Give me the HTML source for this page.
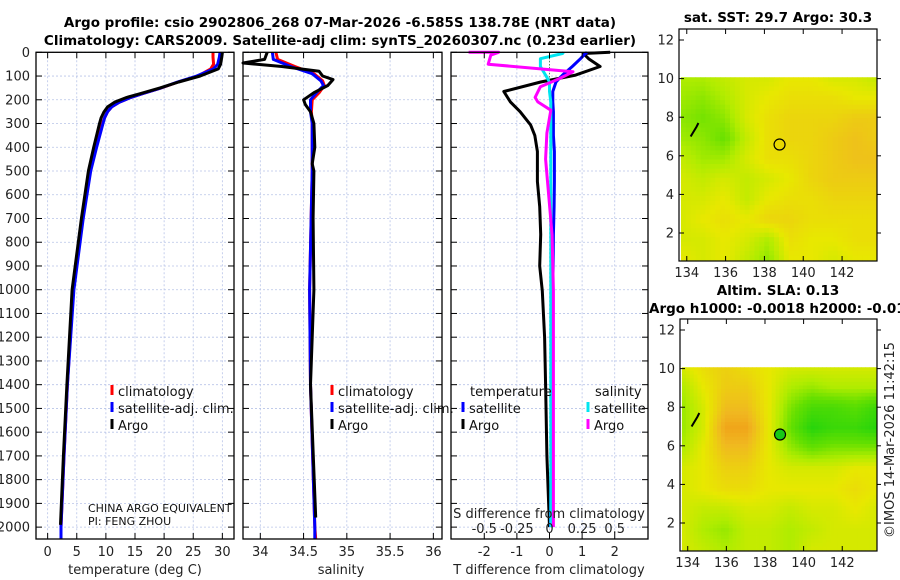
<!DOCTYPE html>
<html><head><meta charset="utf-8">
<style>
body{margin:0;background:#fff;}
svg{display:block;font-family:"DejaVu Sans","Liberation Sans",sans-serif;}
.t{font-size:13px;fill:#222;}
.b{font-weight:bold;font-size:13.5px;fill:#000;}
.lg{font-size:13px;fill:#111;}
</style></head><body>
<svg id="fig" width="900" height="580" viewBox="0 0 900 580" xmlns="http://www.w3.org/2000/svg">
<g id="grid"></g>
<g id="marks"></g>
<g id="frames"></g>
<g id="labels"></g>
</svg>
<script>
// ---------- DATA ----------
const depthTicks=[0,100,200,300,400,500,600,700,800,900,1000,1100,1200,1300,1400,1500,1600,1700,1800,1900,2000];
const tempTicks=[0,5,10,15,20,25,30];
const salTicks=[34,34.5,35,35.5,36];
const salTickLabels=["34","34.5","35","35.5","36"];
const tdiffTicks=[-2,-1,0,1,2];
const sdiffTicks=[-0.5,-0.25,0,0.25,0.5];
const sdiffTickLabels=["-0.5","-0.25","0","0.25","0.5"];
const lonTicks=[134,136,138,140,142];
const latTicks=[2,4,6,8,10,12];

const depthT=[0,20,50,70,100,125,150,175,190,210,230,250,275,300,400,500,700,1000,1400,1700,2000,2050];
const tClim=[28.4,28.4,28.5,28.0,25.8,22.4,19.5,16.2,14.3,12.3,11.0,10.3,9.8,9.4,8.3,7.3,6.0,4.4,3.4,2.8,2.3,2.3];
const tSat=[29.6,29.5,29.2,28.5,25.6,22.3,19.5,16.2,14.3,12.3,11.0,10.3,9.8,9.5,8.4,7.4,6.1,4.5,3.4,2.8,2.3,2.3];
const depthTArgo=[0,20,50,70,100,125,150,175,190,210,230,250,275,300,400,500,700,1000,1400,1700,1990];
const tArgo=[30.0,29.9,29.7,29.3,26.2,22.5,19.3,15.8,13.6,11.5,10.3,9.7,9.2,8.9,7.9,7.0,5.8,4.2,3.3,2.7,2.2];

const depthS=[0,30,60,90,120,140,170,200,250,300,500,1000,1400,2000,2050];
const sClim=[34.18,34.2,34.4,34.62,34.72,34.74,34.68,34.6,34.59,34.6,34.6,34.57,34.58,34.63,34.64];
const sSat=[34.14,34.15,34.35,34.6,34.7,34.73,34.65,34.58,34.58,34.6,34.6,34.57,34.58,34.63,34.63];
const depthSArgo=[0,30,45,60,80,100,115,140,170,200,220,250,300,400,470,500,700,1000,1400,1960];
const sArgo=[34.08,34.05,33.8,34.25,34.68,34.72,34.84,34.78,34.62,34.5,34.52,34.58,34.62,34.63,34.6,34.62,34.61,34.62,34.58,34.64];

const diffDepth=[0,5,27,60,96,125,165,209,250,306,350,418,544,650,767,900,1005,1200,1400,1700,2000];
const tDiffArgo=[1.86,1.04,1.2,1.55,0.8,-0.27,-1.4,-1.2,-0.9,-0.58,-0.45,-0.37,-0.37,-0.3,-0.27,-0.3,-0.22,-0.15,-0.12,-0.08,0];
const tDiffSat=[1.15,1.1,0.95,0.7,0.4,0.2,0.1,0.1,0.12,0.12,0.12,0.15,0.15,0.14,0.12,0.11,0.1,0.08,0.07,0.05,0.03];
const sDiffSat=[0.107,0.1,-0.07,-0.07,-0.03,0,0.0,0.01,0.01,0.01,0.01,0.01,0.01,0.01,0.01,0.01,0.01,0.01,0.01,0.01,0.01];
const sDiffArgoDepth=[0,0,12,50,82,110,145,190,209,244,340,450,770,1005,1400,2000];
const sDiffArgo=[-0.62,-0.39,-0.45,-0.47,0.18,0.08,-0.07,-0.11,-0.09,0.01,-0.02,-0.03,0.02,0.03,0.03,0.03];

// SST map grid (rows lat 10 -> 0.6, cols lon 133.7 -> 143.8), colour index 0(green)..1(orange)
const sstGrid=[
[0.45,0.45,0.5,0.55,0.55,0.6,0.6,0.55,0.55,0.5],
[0.42,0.38,0.45,0.55,0.6,0.64,0.64,0.64,0.6,0.6],
[0.38,0.33,0.38,0.55,0.64,0.68,0.68,0.68,0.72,0.72],
[0.42,0.38,0.3,0.5,0.64,0.68,0.68,0.72,0.76,0.72],
[0.5,0.42,0.42,0.55,0.64,0.64,0.68,0.72,0.76,0.76],
[0.55,0.5,0.55,0.5,0.55,0.6,0.68,0.72,0.72,0.72],
[0.55,0.55,0.6,0.5,0.6,0.64,0.64,0.68,0.68,0.68],
[0.55,0.6,0.64,0.6,0.68,0.68,0.64,0.64,0.64,0.64],
[0.55,0.55,0.6,0.55,0.45,0.64,0.6,0.6,0.64,0.64],
[0.6,0.55,0.6,0.5,0.38,0.6,0.6,0.55,0.6,0.6]];
const slaGrid=[
[0.55,0.65,0.70,0.65,0.60,0.55,0.55,0.55,0.55,0.55],
[0.45,0.60,0.72,0.72,0.60,0.45,0.40,0.45,0.45,0.45],
[0.40,0.55,0.78,0.78,0.60,0.35,0.20,0.20,0.25,0.15],
[0.40,0.55,0.88,0.88,0.60,0.30,0.08,0.15,0.15,0.08],
[0.45,0.60,0.78,0.78,0.60,0.40,0.30,0.35,0.35,0.35],
[0.55,0.60,0.70,0.70,0.60,0.55,0.55,0.55,0.60,0.60],
[0.55,0.60,0.65,0.65,0.60,0.60,0.60,0.60,0.65,0.60],
[0.55,0.50,0.50,0.55,0.55,0.50,0.55,0.55,0.60,0.55],
[0.55,0.45,0.40,0.50,0.50,0.45,0.50,0.55,0.55,0.55],
[0.55,0.50,0.45,0.50,0.50,0.45,0.55,0.55,0.55,0.55]];
const argoLon=[138.78];
const argoLat=[6.585];

// ---------- HELPERS ----------
const NS="http://www.w3.org/2000/svg";
const G=id=>document.getElementById(id);
function mk(tag,attrs,parent){const e=document.createElementNS(NS,tag);for(const k in attrs)e.setAttribute(k,attrs[k]);(parent||G('marks')).appendChild(e);return e;}
function lin(d0,d1,r0,r1){return v=>r0+(v-d0)*(r1-r0)/(d1-d0);}
const TOP=52.3,BOT=539;
const yD=lin(0,2050,TOP,BOT);
const P1={x0:36,x1:234}, P2={x0:243,x1:442}, P3={x0:451,x1:648};
const xT=lin(-2,32,P1.x0,P1.x1);
const xS=lin(33.8,36.1,P2.x0,P2.x1);
const xTD=lin(-3.02,3.02,P3.x0,P3.x1);
const xSD=lin(-0.755,0.755,P3.x0,P3.x1);

function panelGrid(P,xs,xf,name){
  const g=G('grid');
  xs.forEach(v=>{const x=xf(v);const l=mk('line',{x1:x,x2:x,y1:TOP,y2:BOT,stroke:'#b8c4e8','stroke-width':0.8,'stroke-dasharray':'2,2'},g);
    });
  depthTicks.forEach(d=>{const y=yD(d);const l=mk('line',{x1:P.x0,x2:P.x1,y1:y,y2:y,stroke:'#b8c4e8','stroke-width':0.8,'stroke-dasharray':'2,2'},g);
    
    const f=G('frames');
    mk('line',{x1:P.x0,x2:P.x0+6,y1:y,y2:y,stroke:'#000','stroke-width':1},f);
    mk('line',{x1:P.x1-6,x2:P.x1,y1:y,y2:y,stroke:'#000','stroke-width':1},f);});
  xs.forEach(v=>{const x=xf(v);const f=G('frames');
    mk('line',{x1:x,x2:x,y1:BOT,y2:BOT-6,stroke:'#000','stroke-width':1},f);
    mk('line',{x1:x,x2:x,y1:TOP,y2:TOP+6,stroke:'#000','stroke-width':1},f);});
  const r=mk('rect',{x:P.x0,y:TOP,width:P.x1-P.x0,height:BOT-TOP,fill:'none',stroke:'#000','stroke-width':1.3},G('frames'));
  
}
function line(xs,ds,xf,color,name,w){
  const pts=xs.map((v,i)=>xf(v).toFixed(1)+','+yD(ds[i]).toFixed(1)).join(' ');
  const p=mk('polyline',{points:pts,fill:'none',stroke:color,'stroke-width':w||3,'stroke-linejoin':'round'});
  
  return p;
}
function text(x,y,s,cls,anchor,name,extra){
  const t=mk('text',Object.assign({x:x,y:y,class:cls,'text-anchor':anchor||'start'},extra||{}),G('labels'));
  t.textContent=s;return t;
}

// ---------- PROFILE PANELS ----------
panelGrid(P1,tempTicks,xT,'temperature-panel');
panelGrid(P2,salTicks,xS,'salinity-panel');
panelGrid(P3,tdiffTicks,xTD,'difference-panel');

depthTicks.forEach(d=>text(30,yD(d)+4.5,String(d),'t','end','depth-tick-label'));
tempTicks.forEach(v=>text(xT(v),556,String(v),'t','middle','temperature-tick-label'));
salTicks.forEach((v,i)=>text(xS(v),556,salTickLabels[i],'t','middle','salinity-tick-label'));
tdiffTicks.forEach(v=>text(xTD(v),556,String(v),'t','middle','t-diff-tick-label'));
sdiffTicks.forEach((v,i)=>text(xSD(v),533,sdiffTickLabels[i],'t','middle','s-diff-tick-label'));
text(135,574,'temperature (deg C)','t','middle','temperature-axis-title');
text(341,574,'salinity','t','middle','salinity-axis-title');
text(549,574,'T difference from climatology','t','middle','t-diff-axis-title');
text(549,518,'S difference from climatology','t','middle','s-diff-axis-title');

line(tClim,depthT,xT,'#ff0000','temperature-climatology-line');
line(tSat,depthT,xT,'#0000ff','temperature-satellite-line');
line(tArgo,depthTArgo,xT,'#000000','temperature-argo-line');
line(sClim,depthS,xS,'#ff0000','salinity-climatology-line');
line(sSat,depthS,xS,'#0000ff','salinity-satellite-line');
line(sArgo,depthSArgo,xS,'#000000','salinity-argo-line');
mk('line',{x1:xTD(0),x2:xTD(0),y1:TOP,y2:yD(120),stroke:'#2a6a2a','stroke-width':1,'stroke-dasharray':'1,2'});
line(tDiffArgo,diffDepth,xTD,'#000000','t-diff-argo-line');
line(tDiffSat,diffDepth,xTD,'#0000ff','t-diff-satellite-line');
line(sDiffSat,diffDepth,xSD,'#00e5f0','s-diff-satellite-line');
line(sDiffArgo,sDiffArgoDepth,xSD,'#ff00ff','s-diff-argo-line');

// legends
function legend(x,y,color,label,name){
  const r=mk('rect',{x:x-1.5,y:y-11,width:3,height:10,fill:color},G('labels'));
  
  text(x+6,y,label,'lg','start',name);
}
legend(112,396,'#ff0000','climatology','legend-climatology');
legend(112,413,'#0000ff','satellite-adj. clim.','legend-satellite-adj');
legend(112,430,'#000000','Argo','legend-argo');
legend(332,396,'#ff0000','climatology','legend2-climatology');
legend(332,413,'#0000ff','satellite-adj. clim.','legend2-satellite-adj');
legend(332,430,'#000000','Argo','legend2-argo');
text(470,396,'temperature','lg','start','legend-temperature-header');
text(595,396,'salinity','lg','start','legend-salinity-header');
legend(463,413,'#0000ff','satellite','legend-t-satellite');
legend(463,430,'#000000','Argo','legend-t-argo');
legend(588,413,'#00e5f0','satellite','legend-s-satellite');
legend(588,430,'#ff00ff','Argo','legend-s-argo');
text(88,512,'CHINA ARGO EQUIVALENT','lg','start','institution-label',{style:'font-size:11px'});
text(88,525,'PI: FENG ZHOU','lg','start','pi-label',{style:'font-size:11px'});

// titles
text(340,27,'Argo profile: csio 2902806_268 07-Mar-2026 -6.585S 138.78E (NRT data)','b','middle','main-title-line1');
text(340,45,'Climatology: CARS2009. Satellite-adj clim: synTS_20260307.nc (0.23d earlier)','b','middle','main-title-line2');

// ---------- MAPS ----------
const stops=[[0,[16,208,16]],[0.3,[102,224,0]],[0.45,[176,236,0]],[0.6,[232,232,0]],[0.8,[240,184,32]],[1,[240,138,16]]];
function cmap(v){v=Math.max(0,Math.min(1,v));for(let i=1;i<stops.length;i++){if(v<=stops[i][0]){const a=stops[i-1],b=stops[i];const f=(v-a[0])/(b[0]-a[0]);
  return 'rgb('+a[1].map((c,k)=>Math.round(c+(b[1][k]-c)*f)).join(',')+')';}}return 'rgb(240,138,16)';}
function bil(grid,u,v){const R=grid.length-1,C=grid[0].length-1;const x=u*C,y=v*R;const i=Math.min(Math.floor(y),R-1),j=Math.min(Math.floor(x),C-1);
  const fx=x-j,fy=y-i;return grid[i][j]*(1-fx)*(1-fy)+grid[i][j+1]*fx*(1-fy)+grid[i+1][j]*(1-fx)*fy+grid[i+1][j+1]*fx*fy;}
function map(M,grid,title1,title2,name,markerFill,nsub){
  const xL=lin(133.6,143.8,M.x0,M.x1), yL=lin(12.57,0.55,M.y0,M.y1);
  const g=mk('g',{},G('marks'));
  const lx0=xL(133.7),lx1=xL(143.8),ly0=yL(10.07),ly1=yL(0.6);
  const N=nsub, cw=(lx1-lx0)/N, ch=(ly1-ly0)/N;
  for(let r=0;r<N;r++)for(let c=0;c<N;c++){
    const v=bil(grid,(c+0.5)/N,(r+0.5)/N);
    const cell=mk('rect',{x:(lx0+c*cw).toFixed(2),y:(ly0+r*ch).toFixed(2),width:(cw+0.4).toFixed(2),height:(ch+0.4).toFixed(2),fill:cmap(v)},g);
    
  }
  mk('polyline',{points:[[134.2,7],[134.5,7.5],[134.6,7.7]].map(p=>xL(p[0])+','+yL(p[1])).join(' '),stroke:'#000','stroke-width':2,fill:'none'},g);
  const m=mk('circle',{cx:xL(argoLon[0]),cy:yL(argoLat[0]),r:5.5,fill:markerFill,stroke:'#000','stroke-width':1.2},g);
  
  const f=G('frames');
  lonTicks.forEach(v=>{const x=xL(v);mk('line',{x1:x,x2:x,y1:M.y1,y2:M.y1-5,stroke:'#000'},f);mk('line',{x1:x,x2:x,y1:M.y0,y2:M.y0+5,stroke:'#000'},f);
    text(x,M.y1+16,String(v),'t','middle',name+'-lon-tick-label');});
  latTicks.forEach(v=>{const y=yL(v);mk('line',{x1:M.x0,x2:M.x0+5,y1:y,y2:y,stroke:'#000'},f);mk('line',{x1:M.x1,x2:M.x1+4,y1:y,y2:y,stroke:'#000'},f);
    text(M.x0-5,y+4.5,String(v),'t','end',name+'-lat-tick-label');});
  const fr=mk('rect',{x:M.x0,y:M.y0,width:M.x1-M.x0,height:M.y1-M.y0,fill:'none',stroke:'#000','stroke-width':1.2},f);
  
  text(778,M.titleY,title1,'b','middle',name+'-title');
  if(title2)text(649,M.titleY+18,title2,'b','start',name+'-subtitle');
}
map({x0:679,x1:877,y0:29,y1:261,titleY:22},sstGrid,'sat. SST: 29.7 Argo: 30.3',null,'sst-map','#e8d800',40);
map({x0:680,x1:877,y0:319,y1:551,titleY:295},slaGrid,'Altim. SLA: 0.13','Argo h1000: -0.0018 h2000: -0.017','sla-map','#18c818',50);
text(0,0,'©IMOS 14-Mar-2026 11:42:15','t','middle','imos-timestamp',{transform:'translate(894,440) rotate(-90)'});
</script>
</body></html>
